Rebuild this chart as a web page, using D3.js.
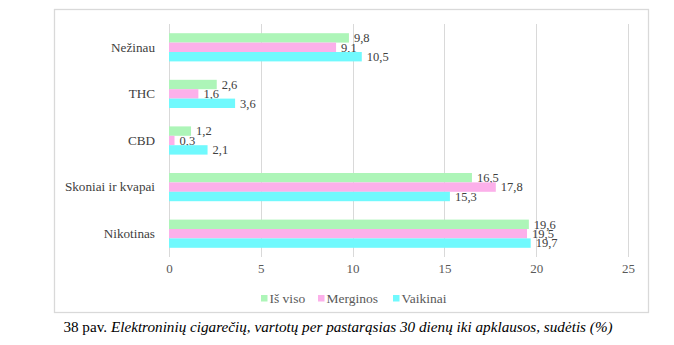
<!DOCTYPE html>
<html>
<head>
<meta charset="UTF-8">
<script src="https://d3js.org/d3.v7.min.js"></script>
<style>
  body { margin: 0; background: #fff; }
  svg text { font-family: "Liberation Serif", serif; }
</style>
</head>
<body>
<div id="chart"></div>
<script>
  const categories = ["Nežinau", "THC", "CBD", "Skoniai ir kvapai", "Nikotinas"];
  const seriesNames = ["Iš viso", "Merginos", "Vaikinai"];
  const isViso = [9.8, 2.6, 1.2, 16.5, 19.6];
  const merginos = [9.1, 1.6, 0.3, 17.8, 19.5];
  const vaikinai = [10.5, 3.6, 2.1, 15.3, 19.7];
  const xTicks = [0, 5, 10, 15, 20, 25];
  const colors = ["#adf5b8", "#fcb0ea", "#70f9fd"];

  const series = [isViso, merginos, vaikinai];
  const width = 674, height = 345;

  const svg = d3.select("#chart").append("svg")
    .attr("width", width)
    .attr("height", height);

  // chart frame
  svg.append("rect")
    .attr("x", 54.5).attr("y", 9.5)
    .attr("width", 594).attr("height", 303)
    .attr("fill", "#fff")
    .attr("stroke", "#d9d9d9")
    .attr("stroke-width", 1.3);

  const x = d3.scaleLinear().domain([0, 25]).range([169, 628]);
  const y = d3.scaleBand().domain(categories).range([24, 257]);
  const barH = 9.4;
  const inner = d3.scaleBand().domain(d3.range(3))
    .range([-barH * 1.5, barH * 1.5]);

  // gridlines
  svg.append("g")
    .selectAll("line")
    .data(xTicks)
    .join("line")
    .attr("x1", d => Math.round(x(d)) + 0.5)
    .attr("x2", d => Math.round(x(d)) + 0.5)
    .attr("y1", 24).attr("y2", 257)
    .attr("stroke", "#d9d9d9")
    .attr("stroke-width", 1);

  // x axis labels
  const xAxis = d3.axisBottom(x).tickValues(xTicks).tickSize(0).tickPadding(0)
    .tickFormat(d3.format("d"));
  const gx = svg.append("g")
    .attr("transform", "translate(0,264)")
    .call(xAxis);
  gx.select(".domain").remove();
  gx.selectAll("text")
    .attr("font-size", 13)
    .attr("fill", "#595959");

  // y axis labels
  const yAxis = d3.axisLeft(y).tickSize(0).tickPadding(0);
  const gy = svg.append("g")
    .attr("transform", "translate(155,0)")
    .call(yAxis);
  gy.select(".domain").remove();
  gy.selectAll("text")
    .attr("font-size", 13.2)
    .attr("fill", "#404040");

  const fmt = v => d3.format(".1f")(v).replace(".", ",");

  series.forEach((vals, si) => {
    const g = svg.append("g");
    g.selectAll("rect")
      .data(vals)
      .join("rect")
      .attr("x", x(0))
      .attr("y", (d, i) => y(categories[i]) + y.bandwidth() / 2 + inner(si))
      .attr("width", d => x(d) - x(0))
      .attr("height", inner.bandwidth())
      .attr("fill", colors[si]);

    g.selectAll("text")
      .data(vals)
      .join("text")
      .attr("x", d => x(d) + 5)
      .attr("y", (d, i) => y(categories[i]) + y.bandwidth() / 2 + inner(si) + inner.bandwidth() / 2)
      .attr("dy", "0.35em")
      .attr("font-size", 12.5)
      .attr("fill", "#404040")
      .text(d => fmt(d));
  });

  // legend
  const legendX = [261, 318, 393];
  const legend = svg.append("g");
  seriesNames.forEach((name, i) => {
    legend.append("rect")
      .attr("x", legendX[i]).attr("y", 295)
      .attr("width", 6.5).attr("height", 6.5)
      .attr("fill", colors[i]);
    legend.append("text")
      .attr("x", legendX[i] + 8.5).attr("y", 298.5)
      .attr("dy", "0.35em")
      .attr("font-size", 13.5)
      .attr("fill", "#595959")
      .text(name);
  });

  // caption
  const cap = svg.append("text")
    .attr("x", 338).attr("y", 327)
    .attr("dy", "0.35em")
    .attr("text-anchor", "middle")
    .attr("font-size", 15.2)
    .attr("fill", "#000");
  cap.append("tspan").text("38 pav. ");
  cap.append("tspan").attr("font-style", "italic")
    .text("Elektroninių cigarečių, vartotų per pastarąsias 30 dienų iki apklausos, sudėtis (%)");
</script>
</body>
</html>
